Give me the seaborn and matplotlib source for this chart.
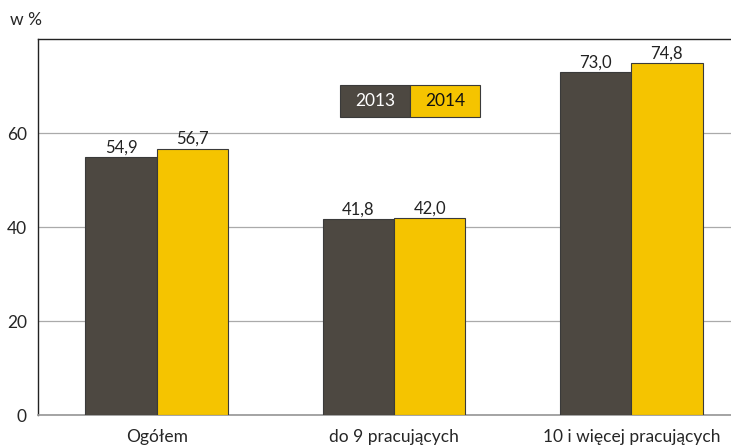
import pandas as pd
import matplotlib
matplotlib.use("Agg")
import matplotlib.pyplot as plt
import seaborn as sns
from matplotlib.patches import Rectangle

# Data
categories = ["Ogółem", "do 9 pracujących", "10 i więcej pracujących"]
years = ["2013", "2014"]
values_2013 = [54.9, 41.8, 73.0]
values_2014 = [56.7, 42.0, 74.8]
yticks = [0, 20, 40, 60]

df = pd.DataFrame({
    "kategoria": categories * 2,
    "rok": [years[0]] * 3 + [years[1]] * 3,
    "wartosc": values_2013 + values_2014,
})

colors = {"2013": "#4d4841", "2014": "#f5c400"}

sns.set_theme(style="white")
plt.rcParams["font.family"] = ["Lato", "DejaVu Sans"]

fig = plt.figure(figsize=(7.31, 4.47), dpi=100)
ax = fig.add_axes([38 / 731, 32 / 447, 693 / 731, 376 / 447])

sns.barplot(data=df, x="kategoria", y="wartosc", hue="rok", palette=colors,
            width=0.6, edgecolor="#3a3a3a", linewidth=0.8, legend=False,
            saturation=1, ax=ax, zorder=3)

for cont in ax.containers:
    labels = [f"{b.get_height():.1f}".replace(".", ",") for b in cont]
    ax.bar_label(cont, labels=labels, padding=1, fontsize=12, color="#222222")

ax.set_ylim(0, 80)
ax.set_xlim(-0.5, 2.42)
ax.set_yticks(yticks)
ax.set_yticklabels([str(t) for t in yticks], fontsize=12.5)
ax.tick_params(axis="y", direction="out", length=5, width=1, color="#222222", pad=3)
ax.tick_params(axis="x", length=0, labelsize=12.5, pad=10)
ax.set_xlabel("")
ax.set_ylabel("")
ax.grid(axis="y", color="#aaaaaa", linewidth=0.9, zorder=0)

ax.spines["right"].set_visible(False)
ax.spines["left"].set_color("#222222")
ax.spines["top"].set_color("#222222")
ax.spines["bottom"].set_color("#999999")
ax.spines["left"].set_linewidth(1)
ax.spines["top"].set_linewidth(1)

fig.text(10 / 731, 1 - 20 / 447, "w %", fontsize=12.5, va="center", ha="left")

# legend boxes
x0, w, y0, h = 0.436, 0.101, 0.793, 0.085
for i, yr in enumerate(years):
    ax.add_patch(Rectangle((x0 + i * w, y0), w, h, transform=ax.transAxes,
                           facecolor=colors[yr], edgecolor="#3a3a3a", linewidth=0.8,
                           zorder=5))
    ax.text(x0 + i * w + w / 2, y0 + h / 2, yr, transform=ax.transAxes,
            ha="center", va="center", fontsize=12.5,
            color="white" if yr == "2013" else "#111111", zorder=6)

fig.savefig("out.png", dpi=100)
